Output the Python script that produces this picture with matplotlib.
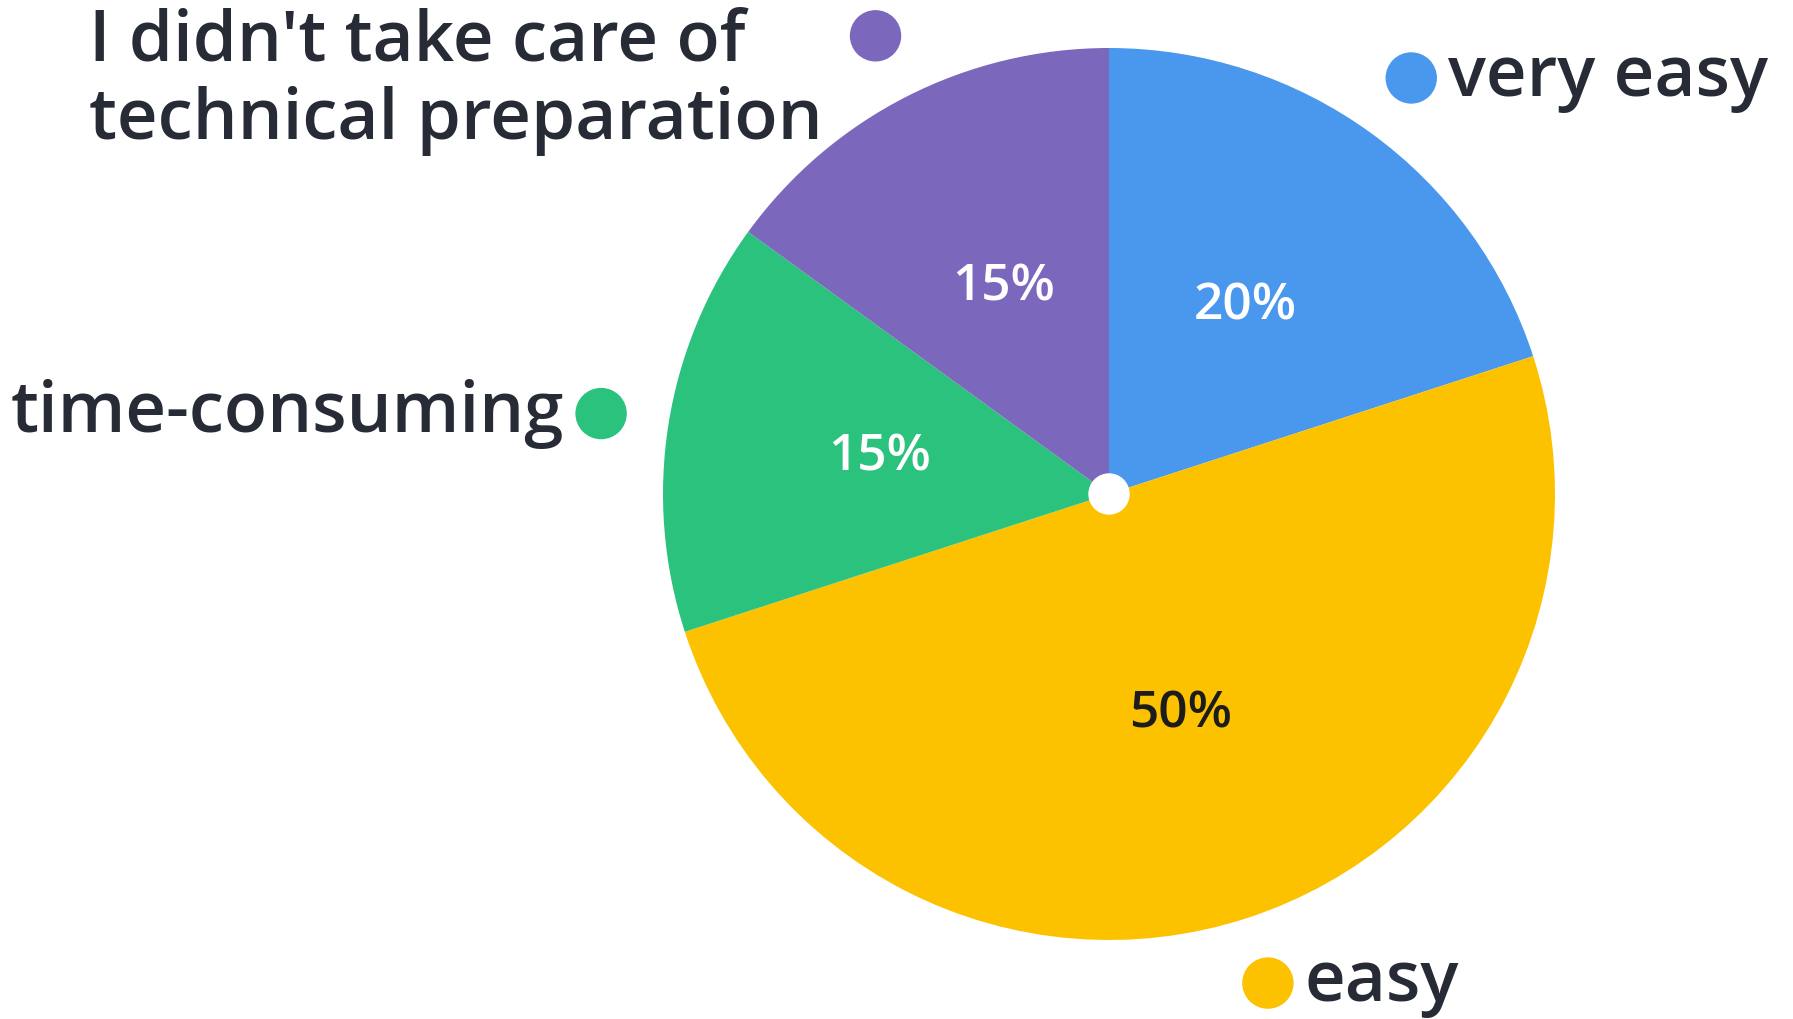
import numpy as np
import matplotlib.pyplot as plt

labels = ["very easy", "easy", "time-consuming", "I didn't take care of\ntechnical preparation"]
shares = [20, 50, 15, 15]
colors = ["#4A98EE", "#FCC200", "#2BC27E", "#7B68BD"]
pct_colors = ["white", "#1c1c1c", "white", "white"]

plt.rcParams['font.family'] = ['Open Sans', 'DejaVu Sans']

W, H = 1793, 1019
fig = plt.figure(figsize=(W / 100, H / 100), dpi=100)
ax = fig.add_axes([0, 0, 1, 1])

cx, cy, R = 1109, 525, 446

wedges, _ = ax.pie(shares, colors=colors, startangle=90, counterclock=False,
                   center=(cx, cy), radius=R, frame=True,
                   wedgeprops=dict(linewidth=0))
ax.set_xlim(0, W)
ax.set_ylim(0, H)
ax.set_aspect('equal')
ax.axis('off')

# hole in the middle
ax.add_patch(plt.Circle((cx, cy), 20, color='white', zorder=5))

text_col = "#272B36"
fs = 51
for w, lab, s, pc, col in zip(wedges, labels, shares, pct_colors, colors):
    mid = np.deg2rad((w.theta1 + w.theta2) / 2)
    # percentage inside
    ax.text(cx + 0.52 * R * np.cos(mid), cy + 0.52 * R * np.sin(mid), f"{s}%",
            ha='center', va='center', fontsize=37, fontweight='semibold', color=pc)
    # dot outside
    dx, dy = cx + 1.153 * R * np.cos(mid), cy + 1.153 * R * np.sin(mid)
    ax.add_patch(plt.Circle((dx, dy), 25, color=col, zorder=4, clip_on=False))
    if np.cos(mid) >= 0:
        ax.text(dx + 37, dy, lab, ha='left', va='center', fontsize=fs,
                color=text_col, fontweight='semibold')
    elif '\n' in lab:
        ax.text(89, dy - 46, lab, ha='left', va='center', fontsize=fs,
                color=text_col, fontweight='semibold', linespacing=1.17)
    else:
        ax.text(dx - 37, dy, lab, ha='right', va='center', fontsize=fs,
                color=text_col, fontweight='semibold')

fig.savefig("out.png", dpi=100, facecolor='white')
